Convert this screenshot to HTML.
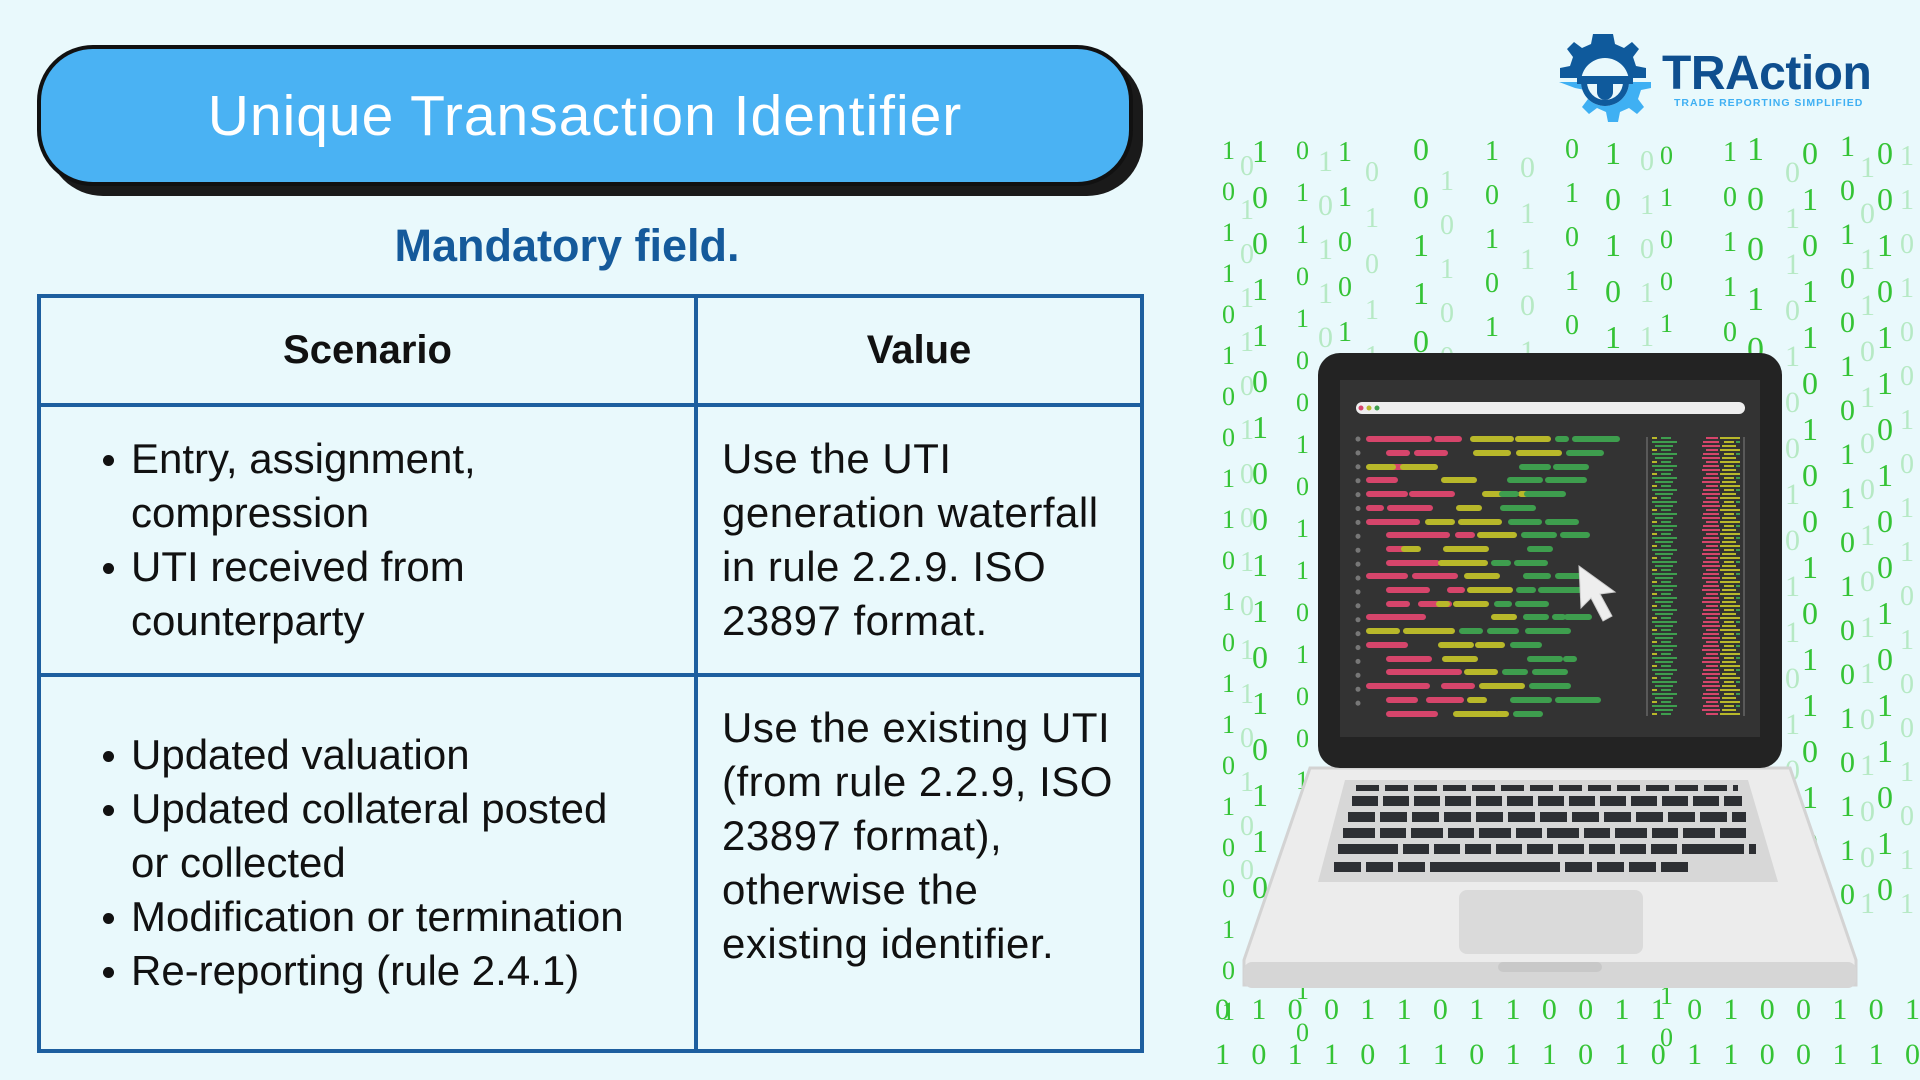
<!DOCTYPE html>
<html style="overflow:hidden;width:1920px;height:1080px"><head><meta charset="utf-8"><style>
*{margin:0;padding:0;box-sizing:border-box}
body{width:1920px;height:1080px;overflow:hidden;background:#e9f9fc;position:relative;font-family:"Liberation Sans",sans-serif;color:#111}
.a{position:absolute}
.rain{position:absolute;left:0;top:0;width:1920px;height:1080px;overflow:hidden}
.col{position:absolute;width:1ch;word-break:break-all;color:#35c335;font-family:"Liberation Serif",serif;text-align:center}
.row{position:absolute;left:1215px;width:705px;height:40px;display:flex;justify-content:space-between;color:#35c335;font-family:"Liberation Serif",serif;font-size:30px;line-height:40px;white-space:nowrap;overflow:hidden}
.f{opacity:.28}
.title{left:37px;top:45px;width:1096px;height:141px;border:4px solid #111;border-radius:56px;background:#4ab2f3;box-shadow:10px 10px 0 #1a1a1a;color:#fff;font-size:57px;display:flex;align-items:center;justify-content:center;letter-spacing:1px}
.mand{left:0;width:1134px;top:220px;text-align:center;color:#155a9b;font-weight:bold;font-size:45px}
table{position:absolute;left:37px;top:294px;width:1107px;height:759px;border-collapse:collapse}
td,th{border:4px solid #1d5f9f;font-size:42px;vertical-align:middle}
th{height:109px;font-size:40px}
td{line-height:54px}
ul{list-style:none;padding-left:54px}
li{position:relative;padding-left:36px}
li:before{content:"";position:absolute;left:8px;top:23px;width:11px;height:11px;border-radius:50%;background:#111}
.v{padding-left:24px;letter-spacing:0.5px}
</style></head><body>
<div class="rain">
<div class="col" style="left:1222px;top:130px;font-size:26px;line-height:41px">1011010011010110100101</div>
<div class="col f" style="left:1240px;top:145px;font-size:28px;line-height:44px">01011010010110100</div>
<div class="col" style="left:1252px;top:128px;font-size:32px;line-height:46px">10011010011010110</div>
<div class="col" style="left:1296px;top:130px;font-size:26px;line-height:42px">0110100101101001011010</div>
<div class="col f" style="left:1318px;top:140px;font-size:30px;line-height:44px">1011010010110100101</div>
<div class="col" style="left:1338px;top:130px;font-size:28px;line-height:45px">11001011010010110</div>
<div class="col f" style="left:1365px;top:150px;font-size:28px;line-height:46px">01011010010110100</div>
<div class="col" style="left:1413px;top:125px;font-size:32px;line-height:48px">00110101101001011</div>
<div class="col f" style="left:1440px;top:160px;font-size:28px;line-height:44px">10100101101001011</div>
<div class="col" style="left:1485px;top:130px;font-size:28px;line-height:44px">101011010010110100</div>
<div class="col f" style="left:1520px;top:145px;font-size:30px;line-height:46px">01101001011010010</div>
<div class="col" style="left:1565px;top:128px;font-size:28px;line-height:44px">010100110101101001</div>
<div class="col" style="left:1605px;top:130px;font-size:32px;line-height:46px">10101101001011010</div>
<div class="col f" style="left:1640px;top:140px;font-size:28px;line-height:44px">010110100101101001</div>
<div class="col" style="left:1660px;top:135px;font-size:26px;line-height:42px">0100110101101001011010</div>
<div class="col" style="left:1723px;top:130px;font-size:28px;line-height:45px">10110100101101001</div>
<div class="col" style="left:1747px;top:125px;font-size:34px;line-height:50px">100101101001011</div>
<div class="col f" style="left:1785px;top:150px;font-size:30px;line-height:46px">01101001011010010</div>
<div class="col" style="left:1802px;top:130px;font-size:32px;line-height:46px">01011010010110100</div>
<div class="col" style="left:1840px;top:125px;font-size:30px;line-height:44px">101001011010010110</div>
<div class="col f" style="left:1860px;top:145px;font-size:30px;line-height:46px">10110100101101001</div>
<div class="col" style="left:1877px;top:130px;font-size:32px;line-height:46px">00101101001011010</div>
<div class="col f" style="left:1900px;top:135px;font-size:28px;line-height:44px">110100101101001011</div>
<div class="row" style="top:990px"><span>0</span><span>1</span><span>0</span><span>0</span><span>1</span><span>1</span><span>0</span><span>1</span><span>1</span><span>0</span><span>0</span><span>1</span><span>1</span><span>0</span><span>1</span><span>0</span><span>0</span><span>1</span><span>0</span><span>1</span></div>
<div class="row" style="top:1035px"><span>1</span><span>0</span><span>1</span><span>1</span><span>0</span><span>1</span><span>1</span><span>0</span><span>1</span><span>1</span><span>0</span><span>1</span><span>0</span><span>1</span><span>1</span><span>0</span><span>0</span><span>1</span><span>1</span><span>0</span></div>
</div>

<svg class="a" style="left:0;top:0" width="1920" height="1080">
<polygon points="1310,768 1790,768 1856,960 1856,985 1244,985 1244,960" fill="#ececec" stroke="#d3d3d3" stroke-width="3"/>
<rect x="1244" y="962" width="612" height="26" rx="8" fill="#d6d6d6"/>
<rect x="1498" y="962" width="104" height="10" rx="5" fill="#c8c8c8"/>
<polygon points="1345,780 1748,780 1778,882 1318,882" fill="#d7d7d7"/>
<g stroke="#2d2f33" stroke-width="10">
<line x1="1356" y1="788" x2="1738" y2="788" stroke-dasharray="23,6" stroke-width="6"/>
<line x1="1352" y1="801" x2="1742" y2="801" stroke-dasharray="26,5"/>
<line x1="1348" y1="817" x2="1746" y2="817" stroke-dasharray="27,5"/>
<line x1="1343" y1="833" x2="1751" y2="833" stroke-dasharray="32,5,26,5"/>
<line x1="1338" y1="849" x2="1756" y2="849" stroke-dasharray="60,5,26,5,26,5,26,5,26,5,26,5,26,5,26,5,26,5,26,5,62,5"/>
<line x1="1334" y1="867" x2="1688" y2="867" stroke-dasharray="27,5,27,5,27,5,130,5,27,5,27,5"/>
</g>
<rect x="1459" y="890" width="184" height="64" rx="8" fill="#dadada"/>
<rect x="1318" y="353" width="464" height="415" rx="22" fill="#232323"/>
<rect x="1340" y="380" width="420" height="357" fill="#333"/>
<rect x="1356" y="402" width="389" height="12" rx="6" fill="#eee"/>
<circle cx="1361" cy="408" r="2.5" fill="#d6456b"/><circle cx="1369" cy="408" r="2.5" fill="#b8b82a"/><circle cx="1377" cy="408" r="2.5" fill="#3e9e4e"/>
<g stroke-linecap="round" stroke-width="6">
<line x1="1358" y1="439" x2="1358" y2="715" stroke="#777" stroke-dasharray="0.1,13.8" stroke-width="5"/>
<path stroke="#d6456b" d="M1369 439h60M1437 439h22M1389 453h18M1417 453h28M1369 480h26M1389 467h42M1369 494h36M1412 494h40M1369 508h12M1390 508h40M1369 522h48M1389 535h58M1458 535h14M1389 549h18M1389 563h48M1369 576h36M1415 576h40M1389 590h38M1450 590h12M1389 604h18M1421 604h28M1369 617h54M1369 645h36M1389 659h40M1389 672h36M1421 672h38M1369 686h58M1444 686h28M1389 700h26M1429 700h32M1389 714h46"/>
<path stroke="#b8b82a" d="M1473 439h38M1518 439h30M1476 453h32M1519 453h40M1369 467h24M1403 467h32M1444 480h30M1485 494h24M1521 494h40M1459 508h20M1428 522h24M1461 522h38M1480 535h34M1404 549h14M1446 549h40M1441 563h44M1467 576h30M1470 590h40M1439 604h8M1456 604h30M1494 617h20M1369 631h28M1406 631h46M1441 645h30M1478 645h24M1445 659h30M1467 672h28M1482 686h40M1470 700h14M1456 714h40M1498 714h8"/>
<path stroke="#3e9e4e" d="M1558 439h8M1575 439h42M1569 453h32M1522 467h26M1556 467h30M1510 480h30M1548 480h36M1502 494h14M1527 494h36M1503 508h30M1511 522h28M1548 522h28M1524 535h30M1563 535h24M1530 549h20M1494 563h14M1517 563h28M1526 576h22M1558 576h30M1519 590h14M1541 590h42M1497 604h12M1518 604h28M1526 617h20M1555 617h8M1567 617h22M1462 631h18M1490 631h26M1528 631h40M1513 645h26M1530 659h30M1566 659h8M1505 672h20M1535 672h30M1532 686h36M1513 700h36M1558 700h40M1516 714h24"/>
</g>
<line x1="1647" y1="437" x2="1647" y2="716" stroke="#666" stroke-width="1.5"/>
<line x1="1744" y1="437" x2="1744" y2="716" stroke="#666" stroke-width="1.5"/>
<defs><pattern id="mm" width="85" height="12" patternUnits="userSpaceOnUse">
<rect x="2" y="1" width="18" height="2" fill="#d6456b"/><rect x="22" y="1" width="14" height="2" fill="#b8b82a"/><rect x="40" y="1" width="18" height="2" fill="#3e9e4e"/>
<rect x="6" y="5" width="12" height="2" fill="#d6456b"/><rect x="20" y="5" width="22" height="2" fill="#b8b82a"/><rect x="46" y="5" width="10" height="2" fill="#3e9e4e"/>
<rect x="3" y="9" width="16" height="2" fill="#d6456b"/><rect x="24" y="9" width="10" height="2" fill="#b8b82a"/><rect x="36" y="9" width="26" height="2" fill="#3e9e4e"/>
</pattern></defs>
<rect x="1652" y="437" width="88" height="279" fill="url(#mm)"/>
<polygon points="1579,566 1581,608 1591,598 1603,621 1612,616 1600,594 1615,592" fill="#eee" stroke="#ccc" stroke-width="1"/>
</svg>

<svg class="a" style="left:1555px;top:30px" width="100" height="100" viewBox="0 0 100 100">
<path fill="#0f5a9c" d="M50 4 l8 0 2 10 9 4 8-6 7 7-6 8 3 9 10 2 0 10 -86 0 0-10 10-2 3-9-6-8 7-7 8 6 9-4 2-10z"/>
<path fill="#3fb0f3" d="M4 52 h92 v6 l-10 2 -3 9 6 8-7 7-8-6-9 4-2 10h-10l-2-10-9-4-8 6-7-7 6-8-3-9-10-2z"/>
<circle cx="50" cy="52" r="24" fill="#e9f9fc"/>
<path d="M22 46h56v8H22z" fill="#0f5a9c"/>
<path d="M42 46h16v16a8 8 0 0 1-16 0z" fill="#0f5a9c"/>
<path d="M26 52a24 24 0 0 0 48 0h-6a18 18 0 0 1-36 0z" fill="#0f5a9c"/>
</svg>
<div class="a" style="left:1662px;top:46px;font-size:48px;font-weight:bold;color:#0f4f8f;letter-spacing:-0.5px">TRAction</div>
<div class="a" style="left:1674px;top:97px;font-size:10.5px;font-weight:bold;color:#3fb0f3;letter-spacing:1px">TRADE REPORTING SIMPLIFIED</div>

<div class="a title">Unique Transaction Identifier</div>
<div class="a mand">Mandatory field.</div>

<table>
<tr><th style="width:657px">Scenario</th><th>Value</th></tr>
<tr style="height:270px"><td><ul><li>Entry, assignment,<br>compression</li><li>UTI received from<br>counterparty</li></ul></td>
<td class="v">Use the UTI<br>generation waterfall<br>in rule 2.2.9. ISO<br>23897 format.</td></tr>
<tr><td><ul><li>Updated valuation</li><li>Updated collateral posted<br>or collected</li><li>Modification or termination</li><li>Re-reporting (rule 2.4.1)</li></ul></td>
<td class="v" style="vertical-align:top;padding-top:24px">Use the existing UTI<br>(from rule 2.2.9, ISO<br>23897 format),<br>otherwise the<br>existing identifier.</td></tr>
</table>
</body></html>
